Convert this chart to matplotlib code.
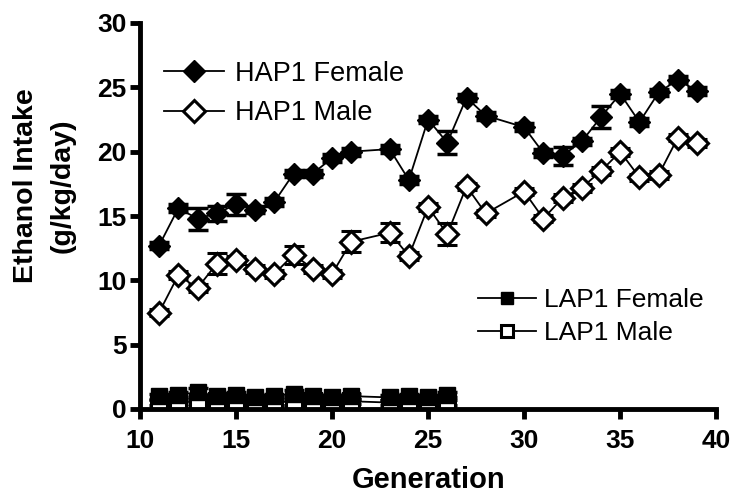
import numpy as np
import matplotlib
matplotlib.use('Agg')
import matplotlib.pyplot as plt
from matplotlib.lines import Line2D

plt.rcParams['font.family'] = ['Liberation Sans', 'DejaVu Sans']

# generations (22 and 29 missing for HAP1)
hap_gen = [11, 12, 13, 14, 15, 16, 17, 18, 19, 20, 21, 23, 24, 25, 26, 27, 28,
           30, 31, 32, 33, 34, 35, 36, 37, 38, 39]
hap_female = [12.7, 15.6, 14.8, 15.2, 15.9, 15.5, 16.1, 18.3, 18.3, 19.5, 20.0,
              20.2, 17.8, 22.5, 20.7, 24.2, 22.8, 21.9, 19.9, 19.7, 20.8, 22.7,
              24.5, 22.3, 24.6, 25.6, 24.7]
hap_female_err = [0.3, 0.3, 0.85, 0.6, 0.8, 0.3, 0.3, 0.3, 0.3, 0.3, 0.3,
                  0.3, 0.3, 0.3, 0.9, 0.3, 0.3, 0.3, 0.3, 0.7, 0.3, 0.85,
                  0.3, 0.3, 0.3, 0.3, 0.3]
hap_male = [7.5, 10.4, 9.4, 11.3, 11.6, 10.9, 10.5, 12.0, 10.9, 10.5, 13.0,
            13.7, 11.9, 15.7, 13.6, 17.3, 15.2, 16.9, 14.8, 16.4, 17.2, 18.5,
            20.0, 18.0, 18.2, 21.1, 20.7]
hap_male_err = [0.3, 0.3, 0.3, 0.8, 0.3, 0.3, 0.3, 0.7, 0.3, 0.3, 0.8,
                0.75, 0.3, 0.3, 0.85, 0.3, 0.3, 0.3, 0.3, 0.3, 0.3, 0.3,
                0.3, 0.3, 0.3, 0.3, 0.3]

lap_gen = [11, 12, 13, 14, 15, 16, 17, 18, 19, 20, 21, 23, 24, 25, 26]
lap_female = [1.0, 1.1, 1.3, 1.0, 1.1, 0.9, 1.0, 1.2, 1.0, 0.9, 1.0, 0.9, 1.0, 0.9, 1.1]
lap_female_err = [0.2, 0.2, 0.3, 0.2, 0.2, 0.2, 0.2, 0.3, 0.2, 0.2, 0.2, 0.2, 0.2, 0.2, 0.2]
lap_male = [0.5, 0.6, 0.5, 0.6, 0.6, 0.5, 0.5, 0.6, 0.6, 0.5, 0.6, 0.5, 0.5, 0.5, 0.5]
lap_male_err = [0.2, 0.2, 0.3, 0.2, 0.2, 0.2, 0.2, 0.3, 0.2, 0.2, 0.2, 0.2, 0.2, 0.2, 0.2]

fig = plt.figure(figsize=(7.4, 5), dpi=100)
ax = fig.add_axes([0.189, 0.182, 0.779, 0.772])

eb = dict(color='black', lw=1.3, elinewidth=1.5, capsize=7, capthick=2.5)
ax.errorbar(hap_gen, hap_male, yerr=hap_male_err, marker='D', ms=11,
            mfc='white', mec='black', mew=2.2, zorder=2, **eb)
ax.errorbar(hap_gen, hap_female, yerr=hap_female_err, marker='D', ms=11,
            mfc='black', mec='black', zorder=3, **eb)
ax.errorbar(lap_gen, lap_male, yerr=lap_male_err, marker='s', ms=11.5,
            mfc='white', mec='black', mew=2.2, zorder=2, **eb)
ax.errorbar(lap_gen, lap_female, yerr=lap_female_err, marker='s', ms=11.5,
            mfc='black', mec='black', zorder=3, **eb)

ax.set_xlim(10, 40)
ax.set_ylim(0, 30)
ax.set_xticks(range(10, 41, 5))
ax.set_yticks(range(0, 31, 5))
for s in ['top', 'right']:
    ax.spines[s].set_visible(False)
for s in ['left', 'bottom']:
    ax.spines[s].set_linewidth(3.5)
ax.tick_params(width=3.5, length=7.5, labelsize=19)
ax.tick_params(axis='x', pad=7)
ax.tick_params(axis='y', pad=2)
for lbl in ax.get_xticklabels() + ax.get_yticklabels():
    lbl.set_fontweight('bold')

ax.set_xlabel('Generation', fontsize=21, fontweight='bold')
ax.xaxis.set_label_coords(0.5, -0.148)
ax.set_ylabel('Ethanol Intake\n(g/kg/day)', fontsize=20.5, fontweight='bold',
              linespacing=1.5)
ax.yaxis.set_label_coords(-0.112, 0.578)

hap_handles = [
    Line2D([], [], color='black', lw=1.3, marker='D', ms=11, mfc='black', mec='black'),
    Line2D([], [], color='black', lw=1.3, marker='D', ms=11, mfc='white', mec='black', mew=2.2),
]
leg1 = ax.legend(hap_handles, ['HAP1 Female', 'HAP1 Male'], loc='upper left',
                 bbox_to_anchor=(0.0, 0.965), frameon=False, fontsize=19.5,
                 handlelength=2.2, handletextpad=0.4, labelspacing=0.5)
ax.add_artist(leg1)

lap_handles = [
    Line2D([], [], color='black', lw=1.3, marker='s', ms=9, mfc='black', mec='black'),
    Line2D([], [], color='black', lw=1.3, marker='s', ms=9, mfc='white', mec='black', mew=2.2),
]
ax.legend(lap_handles, ['LAP1 Female', 'LAP1 Male'], loc='upper left',
          bbox_to_anchor=(0.545, 0.375), frameon=False, fontsize=19,
          handlelength=2.2, handletextpad=0.3, labelspacing=0.35)

fig.savefig('out.png', dpi=100)
